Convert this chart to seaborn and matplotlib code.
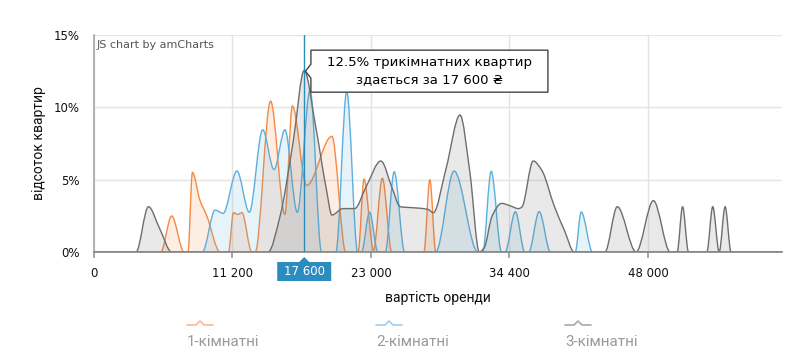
import numpy as np
import seaborn as sns
import matplotlib.pyplot as plt
import matplotlib.transforms as mtrans
from matplotlib.path import Path
from matplotlib.patches import PathPatch, Polygon
from matplotlib.lines import Line2D

# category positions (0..139) and share of flats, %
one_x = [0, 13.5, 15.7, 18.2, 19.0, 19.9, 21.4, 22.8, 25.5, 27.2, 28.2, 29.0, 29.9, 31.9, 32.6,
         35.7, 38.6, 40.1, 43.0, 48.1, 50.9, 53.4, 54.6, 56.5, 58.3, 60.2, 66.7, 67.9, 69.1, 139.1]
one_y = [0, 0, 2.49, 0, 0, 5.5, 3.6, 2.5, 0, 0, 2.72, 2.6, 2.72, 0, 0,
         10.43, 2.6, 10.1, 4.6, 8.0, 0, 0, 5.04, 0.1, 5.1, 0, 0, 5.0, 0, 0]

two_x = [0, 21.9, 24.5, 26.1, 28.9, 31.4, 34.1, 36.4, 38.6, 41.1, 43.7, 46.0, 48.9, 51.1, 53.3,
         54.1, 55.7, 57.4, 58.9, 60.7, 62.8, 69.1, 72.8, 77.6, 78.6, 80.3, 82.4, 83.1, 85.2, 87.1,
         87.9, 90.0, 92.3, 97.3, 98.5, 100.8, 139.1]
two_y = [0, 0, 2.9, 2.67, 5.6, 2.75, 8.45, 5.7, 8.45, 2.75, 11.2, 0, 0, 11.08, 0,
         0, 2.75, 0, 0, 5.55, 0, 0, 5.6, 0, 0, 5.58, 0, 0, 2.78, 0,
         0, 2.79, 0, 0, 2.77, 0, 0]

three_x = [0, 8.5, 11.0, 13.3, 15.7, 35.2, 37.6, 40.3, 42.5, 44.7, 47.0, 48.1, 50.3, 52.7, 55.0,
           58.0, 60.3, 61.9, 64.9, 67.5, 68.6, 71.2, 74.0, 76.0, 77.9, 78.9, 80.5, 82.4, 84.1, 85.8,
           86.5, 88.8, 90.5, 93.1, 95.1, 97.1, 103.3, 105.8, 109.6, 113.1, 116.5, 117.9, 119.0, 120.2,
           123.9, 125.1, 126.4, 127.6, 128.8, 139.1]
three_y = [0, 0, 3.13, 1.6, 0, 0, 2.45, 7.7, 12.55, 8.9, 4.3, 2.55, 3.0, 3.0, 4.5,
           6.29, 4.4, 3.13, 3.05, 2.95, 2.72, 5.8, 9.47, 5.5, 0, 0.3, 2.5, 3.36, 3.2, 3.0,
           3.1, 6.29, 5.67, 3.13, 1.5, 0, 0, 3.13, 0, 3.55, 0, 0, 3.13, 0,
           0, 3.13, 0, 3.13, 0, 0]

series = ['1-кімнатні', '2-кімнатні', '3-кімнатні']
tick_pos = [0, 28, 56, 84, 112]
tick_labels = ['0', '11 200', '23 000', '34 400', '48 000']
cursor_x = 42.5
cursor_val = 12.5
cursor_label = '17 600'

colors = ['#f58a45', '#5db0dd', '#6e6e6e']
data = [(one_x, one_y), (two_x, two_y), (three_x, three_y)]


def smooth_verts(x, y):
    # monotone cubic bezier through the points (like a smoothed line)
    x = np.asarray(x, float)
    y = np.asarray(y, float)
    h = np.diff(x)
    d = np.diff(y) / h
    m = np.zeros(len(x))
    for i in range(1, len(x) - 1):
        if d[i - 1] * d[i] > 0:
            w1 = 2 * h[i] + h[i - 1]
            w2 = h[i] + 2 * h[i - 1]
            m[i] = (w1 + w2) / (w1 / d[i - 1] + w2 / d[i])
    verts = [(x[0], y[0])]
    codes = [Path.MOVETO]
    for i in range(len(x) - 1):
        verts += [(x[i] + h[i] / 3, y[i] + m[i] * h[i] / 3),
                  (x[i + 1] - h[i] / 3, y[i + 1] - m[i + 1] * h[i] / 3),
                  (x[i + 1], y[i + 1])]
        codes += [Path.CURVE4] * 3
    return verts, codes


sns.set_theme(style="white")
plt.rcParams['font.family'] = ['DejaVu Sans']
narrow = ['Liberation Sans Narrow', 'Roboto', 'DejaVu Sans']

fig = plt.figure(figsize=(8.01, 3.63), dpi=100)
ax = fig.add_axes([94 / 801, 1 - 252 / 363, 688 / 801, 217 / 363])

for (xs, ys), c in zip(data, colors):
    verts, codes = smooth_verts(xs, ys)
    fill = Path(verts + [(xs[-1], 0), (xs[0], 0), (xs[0], 0)],
                codes + [Path.LINETO, Path.LINETO, Path.CLOSEPOLY])
    ax.add_patch(PathPatch(fill, facecolor=c, alpha=0.15, lw=0))
    ax.add_patch(PathPatch(Path(verts, codes), fill=False, edgecolor=c, lw=1.0))

ax.set_xlim(0, 139.1)
ax.set_ylim(0, 15)
ax.set_xticks(tick_pos)
ax.set_xticklabels(tick_labels)
ax.set_yticks([0, 5, 10, 15])
ax.set_yticklabels(['0%', '5%', '10%', '15%'])
ax.grid(True, color='#e4e4e4', lw=1)
ax.set_axisbelow(True)
sns.despine(ax=ax)
ax.spines['left'].set_color('#aaaaaa')
ax.spines['bottom'].set_color('#888888')
ax.tick_params(axis='x', length=4, color='#999999', pad=7, labelsize=8.5, labelcolor='#111111')
ax.tick_params(axis='y', length=0, pad=10, labelsize=8.5, labelcolor='#111111')
ax.tick_params(axis='x', bottom=True)

ax.set_xlabel('вартість оренди', fontsize=10, family=narrow, color='#111111')
ax.xaxis.set_label_coords(0.5, -0.18)
ax.set_ylabel('відсоток квартир', fontsize=10, family=narrow, color='#111111')
ax.yaxis.set_label_coords(-0.07, 0.5)

ax.text(0.004, 0.953, 'JS chart by amCharts', transform=ax.transAxes, fontsize=8,
        color='#555555', va='center', ha='left')

# cursor
ax.axvline(cursor_x, color='#2a8cbf', lw=1, zorder=5)
px = fig.dpi_scale_trans
tr_tip = px + mtrans.ScaledTranslation(cursor_x, cursor_val, ax.transData)
balloon = [(0.067, 0.07), (0.067, 0.21), (2.437, 0.21), (2.437, -0.21),
           (0.067, -0.21), (0.067, -0.07), (0.012, 0)]
ax.add_patch(Polygon(balloon, closed=True, transform=tr_tip, facecolor='white',
                     edgecolor='#444444', lw=1, zorder=6, clip_on=False))
ax.text(1.252, 0.0, '12.5% трикімнатних квартир\nздається за 17 600 ₴', transform=tr_tip,
        ha='center', va='center', multialignment='center', fontsize=9.5, linespacing=1.4,
        color='#000000', zorder=7, family=['DejaVu Sans', 'Noto Sans'])

tr_base = px + mtrans.ScaledTranslation(cursor_x, 0, ax.transData)
label_box = [(0, -0.05), (0.05, -0.10), (0.27, -0.10), (0.27, -0.29),
             (-0.27, -0.29), (-0.27, -0.10), (-0.05, -0.10)]
ax.add_patch(Polygon(label_box, closed=True, transform=tr_base, facecolor='#2a8cbf',
                     edgecolor='none', zorder=6, clip_on=False))
ax.text(0, -0.195, cursor_label, transform=tr_base, ha='center', va='center',
        fontsize=8.5, color='white', zorder=7)

# legend
leg_x = [187, 376, 565]
for lx, name, c in zip(leg_x, series, colors):
    mx = np.array([lx, lx + 9, lx + 13, lx + 17, lx + 26]) / 801
    my = 1 - np.array([325, 325, 321, 325, 325]) / 363
    fig.add_artist(Line2D(mx, my, color=c, alpha=0.55, lw=1.3, transform=fig.transFigure))
    fig.text(lx / 801, 1 - 342 / 363, name, fontsize=11, family=narrow, color='#9a9a9a',
             ha='left', va='center')

fig.savefig('out.png', dpi=100)
